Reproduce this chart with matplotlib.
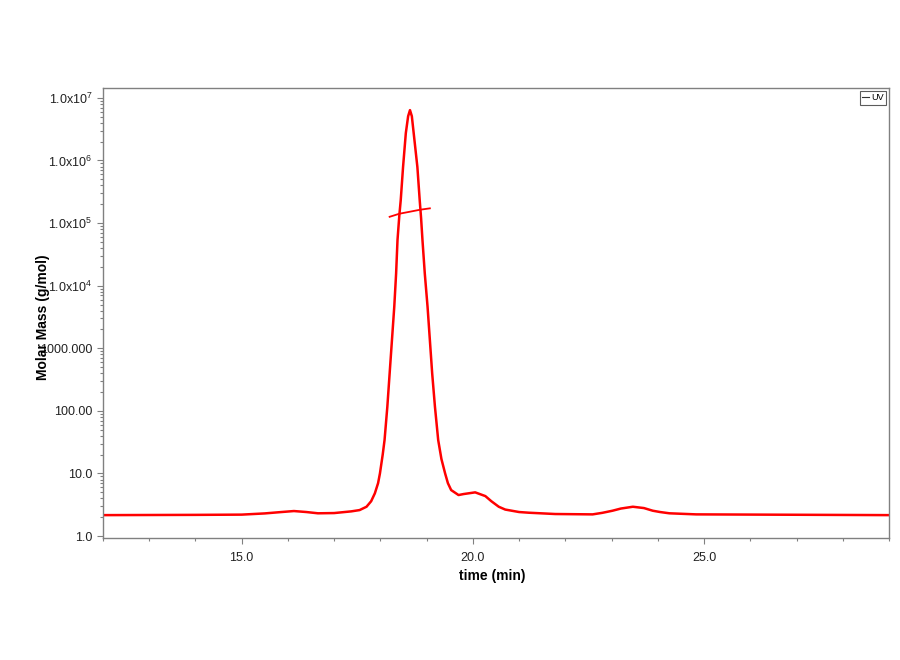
import numpy as np
import matplotlib
matplotlib.use('Agg')
import matplotlib.pyplot as plt
from matplotlib.ticker import FixedLocator, FixedFormatter, LogLocator, NullFormatter, MultipleLocator

plt.rcParams['font.family'] = ['Liberation Sans', 'DejaVu Sans']
plt.rcParams['mathtext.fontset'] = 'custom'
plt.rcParams['mathtext.rm'] = 'Liberation Sans'

# UV trace
time_min = [12.0, 14.0, 15.0, 15.5, 15.8, 16.13, 16.4, 16.65, 17.0, 17.37, 17.55,
            17.70, 17.80, 17.88, 17.95, 17.99, 18.05, 18.09, 18.15, 18.20, 18.25,
            18.30, 18.34, 18.37, 18.41, 18.44, 18.49, 18.55, 18.60, 18.64, 18.68,
            18.72, 18.80, 18.85, 18.88, 18.91, 18.96, 19.02, 19.07, 19.12, 19.18,
            19.25, 19.32, 19.40, 19.46, 19.53, 19.69, 19.80, 20.05, 20.27, 20.40,
            20.56, 20.70, 21.00, 21.21, 21.78, 22.59, 22.80, 23.02, 23.20, 23.46,
            23.70, 23.89, 24.05, 24.25, 24.83, 29.0]
uv_signal = [2.16, 2.18, 2.2, 2.3, 2.4, 2.51, 2.42, 2.31, 2.33, 2.48, 2.6,
             2.94, 3.6, 4.81, 7.0, 10.0, 20.0, 34.2, 116, 397, 1350,
             4600, 1.57e4, 5.35e4, 1.34e5, 2.33e5, 7.85e5, 2.74e6, 5.1e6, 6.38e6, 5.1e6,
             2.74e6, 7.85e5, 2.33e5, 1.2e5, 5.35e4, 1.57e4, 4600, 1350, 397, 116,
             34.2, 17.0, 10.0, 7.0, 5.43, 4.52, 4.69, 4.99, 4.35, 3.6,
             2.94, 2.65, 2.42, 2.36, 2.25, 2.22, 2.35, 2.54, 2.75, 2.94,
             2.8, 2.54, 2.42, 2.31, 2.22, 2.16]

# molar mass segment across the main peak
mass_time = [18.20, 18.41, 18.64, 18.85, 19.07]
mass_value = [1.26e5, 1.41e5, 1.52e5, 1.63e5, 1.72e5]

ytick_vals = [1e0, 1e1, 1e2, 1e3, 1e4, 1e5, 1e6, 1e7]
ytick_labels = ['1.0', '10.0', '100.00', '1000.000', '1.0x10$^{4}$',
                '1.0x10$^{5}$', '1.0x10$^{6}$', '1.0x10$^{7}$']
xtick_vals = [15.0, 20.0, 25.0]
xtick_labels = ['15.0', '20.0', '25.0']

fig = plt.figure(figsize=(9, 6.6), dpi=100)
ax = fig.add_axes([0.1144, 0.1848, 0.8734, 0.6819])

ax.plot(time_min, uv_signal, color='#ff0000', lw=1.8, label='UV')
ax.plot(mass_time, mass_value, color='#ff0000', lw=1.3)

ax.set_yscale('log')
ax.set_xlim(12.0, 29.0)
ax.set_ylim(0.93, 1.44e7)

ax.yaxis.set_major_locator(FixedLocator(ytick_vals))
ax.yaxis.set_major_formatter(FixedFormatter(ytick_labels))
ax.yaxis.set_minor_locator(LogLocator(base=10, subs=np.arange(2, 10)))
ax.yaxis.set_minor_formatter(NullFormatter())
ax.xaxis.set_major_locator(FixedLocator(xtick_vals))
ax.xaxis.set_major_formatter(FixedFormatter(xtick_labels))
ax.xaxis.set_minor_locator(MultipleLocator(1.0))

ax.tick_params(which='both', direction='out', color='#808080', labelsize=9, labelcolor='#222222')
ax.tick_params(which='major', length=4, width=0.8)
ax.tick_params(which='minor', length=2.5, width=0.8)
ax.tick_params(axis='x', pad=6)

for s in ax.spines.values():
    s.set_color('#808080')
    s.set_linewidth(1.0)

ax.set_xlabel('time (min)', fontsize=10, fontweight='bold')
ax.set_ylabel('Molar Mass (g/mol)', fontsize=10, fontweight='bold')
ax.xaxis.set_label_coords(0.495, -0.068)
ax.yaxis.set_label_coords(-0.068, 0.49)

leg = ax.legend(loc='upper right', fontsize=6.5, handlelength=0.8, handletextpad=0.2,
                borderpad=0.25, frameon=True, fancybox=False, borderaxespad=0.35)
leg.get_frame().set_edgecolor('#333333')
leg.get_frame().set_linewidth(0.8)
leg.get_lines()[0].set_color('#333333')
leg.get_lines()[0].set_linewidth(0.8)

fig.savefig('out.png', dpi=100)
